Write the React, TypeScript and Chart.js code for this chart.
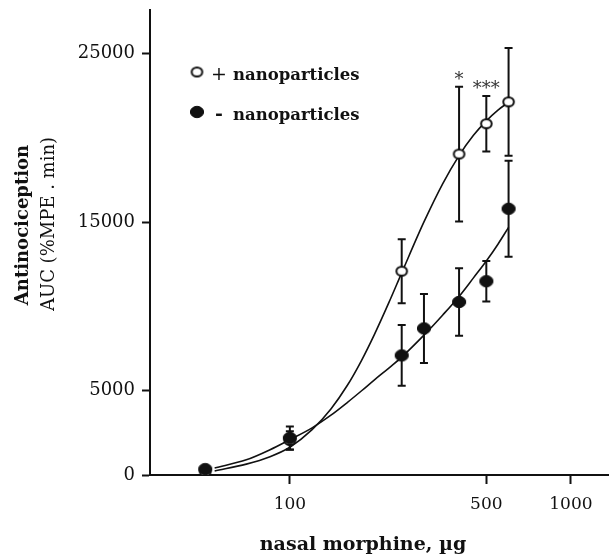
import React, { useEffect, useRef } from "react";
import { Chart, registerables } from "chart.js";

Chart.register(...registerables);

// ---- data ----
const doseFilled = [50, 100, 250, 300, 400, 500, 600];
const aucFilled = [350, 2200, 7100, 8700, 10270, 11500, 15800];
const semFilled = [0, 680, 1800, 2050, 2000, 1200, 2850];

const doseOpen = [50, 100, 250, 400, 500, 600];
const aucOpen = [200, 2050, 12100, 19050, 20850, 22150];
const semOpen = [0, 550, 1900, 4000, 1650, 3200];
const sigOpen = ["", "", "", "*", "***", ""];

// fitted curves
const fitDoses = [54, 70, 85, 100, 120, 140, 160, 180, 200, 225, 250, 300, 350, 400, 450, 500, 550, 600];
const fitOpen = [240, 645, 1090, 1650, 2690, 3920, 5310, 6810, 8350, 10230, 12000, 15020, 17300, 18960, 20160, 21020, 21660, 22130];
const fitFilled = [420, 900, 1500, 2100, 2800, 3550, 4300, 5000, 5650, 6350, 7000, 8300, 9500, 10600, 11700, 12700, 13700, 14700];

const xTicks = [100, 500, 1000];
const yTicks = [0, 5000, 15000, 25000];
const legendSigns = ["+", "-"];
const legendText = "nanoparticles";
const xTitle = "nasal morphine, µg";
const yTitle1 = "Antinociception";
const yTitle2 = "AUC (%MPE . min)";

const INK = "#111";
const FONT = "'DejaVu Serif', serif";

function makeEllipse(rx: number, ry: number, filled: boolean, lw: number) {
  const pad = lw + 1;
  const c = document.createElement("canvas");
  c.width = Math.ceil(2 * rx + 2 * pad);
  c.height = Math.ceil(2 * ry + 2 * pad);
  const g = c.getContext("2d")!;
  g.beginPath();
  g.ellipse(c.width / 2, c.height / 2, rx, ry, 0, 0, Math.PI * 2);
  g.fillStyle = filled ? INK : "#fff";
  g.fill();
  g.lineWidth = lw;
  g.strokeStyle = INK;
  g.stroke();
  return c;
}

export default function App() {
  const ref = useRef<HTMLCanvasElement>(null);

  useEffect(() => {
    const openImg = makeEllipse(5.3, 4.5, false, 2);
    const filledImg = makeEllipse(6.6, 5.7, true, 1);

    const overlay = {
      id: "overlay",
      beforeDatasetsDraw(chart: any) {
        const { ctx, scales } = chart;
        const x = scales.x, y = scales.y;
        ctx.save();
        ctx.strokeStyle = INK;
        ctx.lineWidth = 2;
        const bars = (doses: number[], vals: number[], sems: number[]) => {
          doses.forEach((d, i) => {
            const s = sems[i];
            if (!s) return;
            const px = x.getPixelForValue(d);
            const top = y.getPixelForValue(vals[i] + s);
            const bot = y.getPixelForValue(vals[i] - s);
            ctx.beginPath();
            ctx.moveTo(px, top);
            ctx.lineTo(px, bot);
            ctx.moveTo(px - 4, top);
            ctx.lineTo(px + 4, top);
            ctx.moveTo(px - 4, bot);
            ctx.lineTo(px + 4, bot);
            ctx.stroke();
          });
        };
        bars(doseOpen, aucOpen, semOpen);
        bars(doseFilled, aucFilled, semFilled);
        ctx.restore();
      },
      afterDraw(chart: any) {
        const { ctx, scales } = chart;
        const x = scales.x, y = scales.y;
        ctx.save();

        // significance marks
        ctx.fillStyle = "#333";
        ctx.font = `18px ${FONT}`;
        ctx.textAlign = "center";
        ctx.textBaseline = "alphabetic";
        doseOpen.forEach((d, i) => {
          if (!sigOpen[i]) return;
          const px = x.getPixelForValue(d);
          const top = y.getPixelForValue(aucOpen[i] + semOpen[i]);
          ctx.fillText(sigOpen[i], px, top - 2);
        });

        // legend
        ctx.fillStyle = INK;
        const rows = [
          { img: openImg, cy: 72 },
          { img: filledImg, cy: 112 },
        ];
        rows.forEach((r, i) => {
          ctx.drawImage(r.img, 197 - r.img.width / 2, r.cy - r.img.height / 2);
          ctx.textAlign = "center";
          ctx.textBaseline = "alphabetic";
          ctx.font = i === 0 ? `19px ${FONT}` : `bold 19px ${FONT}`;
          ctx.fillText(legendSigns[i], 219, r.cy + 8);
          ctx.textAlign = "left";
          ctx.font = `bold 16.5px ${FONT}`;
          ctx.fillText(legendText, 233, r.cy + 8);
        });

        // x title
        ctx.textAlign = "center";
        ctx.textBaseline = "alphabetic";
        ctx.font = `bold 19px ${FONT}`;
        ctx.fillText(xTitle, 363, 550);

        // y titles
        ctx.save();
        ctx.translate(28, 225);
        ctx.rotate(-Math.PI / 2);
        ctx.font = `bold 18px ${FONT}`;
        ctx.fillText(yTitle1, 0, 0);
        ctx.restore();
        ctx.save();
        ctx.translate(54, 224);
        ctx.rotate(-Math.PI / 2);
        ctx.font = `18px ${FONT}`;
        ctx.fillText(yTitle2, 0, 0);
        ctx.restore();

        ctx.restore();
      },
    };

    const chart = new Chart(ref.current!, {
      type: "line",
      data: {
        datasets: [
          {
            label: "- nanoparticles",
            data: doseFilled.map((d, i) => ({ x: d, y: aucFilled[i] })),
            showLine: false,
            pointStyle: filledImg as any,
            pointRadius: 7,
          },
          {
            label: "+ nanoparticles",
            data: doseOpen.map((d, i) => ({ x: d, y: aucOpen[i] })),
            showLine: false,
            pointStyle: openImg as any,
            pointRadius: 6,
          },
          {
            label: "fit +",
            data: fitDoses.map((d, i) => ({ x: d, y: fitOpen[i] })),
            borderColor: INK,
            borderWidth: 1.6,
            pointRadius: 0,
            cubicInterpolationMode: "monotone",
            fill: false,
          },
          {
            label: "fit -",
            data: fitDoses.map((d, i) => ({ x: d, y: fitFilled[i] })),
            borderColor: INK,
            borderWidth: 1.6,
            pointRadius: 0,
            cubicInterpolationMode: "monotone",
            fill: false,
          },
        ],
      },
      options: {
        responsive: false,
        animation: false,
        layout: { autoPadding: false, padding: { left: 0, right: 0, top: 10, bottom: 0 } },
        plugins: { legend: { display: false }, tooltip: { enabled: false } },
        scales: {
          x: {
            type: "logarithmic",
            min: 31.8,
            max: 1366,
            afterBuildTicks: (s: any) => {
              s.ticks = xTicks.map((v) => ({ value: v }));
            },
            afterFit: (s: any) => {
              s.height = 79;
              s.paddingLeft = 0;
              s.paddingRight = 0;
            },
            grid: { drawOnChartArea: false, drawTicks: true, tickLength: 9, tickWidth: 2, tickColor: INK },
            border: { display: true, color: INK, width: 2 },
            ticks: {
              color: INK,
              font: { family: FONT, size: 17 },
              padding: 10,
              maxRotation: 0,
              autoSkip: false,
              callback: (v: any) => String(v),
            },
          },
          y: {
            type: "linear",
            min: 0,
            max: 27600,
            afterBuildTicks: (s: any) => {
              s.ticks = yTicks.map((v) => ({ value: v }));
            },
            afterFit: (s: any) => {
              s.width = 150;
              s.paddingTop = 0;
              s.paddingBottom = 0;
            },
            grid: { drawOnChartArea: false, drawTicks: true, tickLength: 8, tickWidth: 2, tickColor: INK },
            border: { display: true, color: INK, width: 2 },
            ticks: {
              color: INK,
              font: { family: FONT, size: 18 },
              padding: 7,
              callback: (v: any) => String(v),
            },
          },
        },
      },
      plugins: [overlay],
    } as any);
    return () => chart.destroy();
  }, []);

  return (
    <div style={{ position: "fixed", left: 0, top: 0, width: 609, height: 554, background: "#fff" }}>
      <canvas ref={ref} width={609} height={554} style={{ display: "block", width: 609, height: 554 }} />
    </div>
  );
}
